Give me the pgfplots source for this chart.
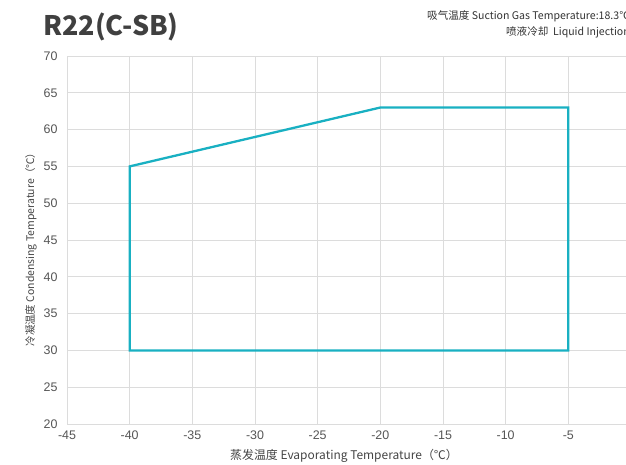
\documentclass[border=0pt]{standalone}
\usepackage{fontspec}
\setmainfont{Noto Sans CJK SC}
\newfontfamily\arial{Liberation Sans}
\usepackage{pgfplots}
\pgfplotsset{compat=1.18}
\definecolor{teal1}{RGB}{25,176,194}
\definecolor{grid1}{RGB}{220,220,220}
\definecolor{tick1}{RGB}{85,85,85}
\begin{document}
\begin{tikzpicture}
\begin{axis}[
  at={(0,0)}, anchor=south west,
  scale only axis, width=564bp, height=368bp,
  xmin=-45, xmax=0, ymin=20, ymax=70,
  xtick={-45,-40,...,-5}, ytick={20,25,...,70},
  extra x ticks={0}, extra x tick labels={},
  extra x tick style={grid=major},
  grid=major,
  major grid style={draw=grid1, line width=1pt},
  axis line style={draw=grid1, line width=1pt},
  major tick length=0pt,
  tick style={draw=none},
  /pgf/number format/assume math mode=true,
  ticklabel style={font=\arial\fontsize{12.5}{14}\selectfont, text=tick1},
  yticklabel style={xshift=-6bp},
  xticklabel style={yshift=-3bp},
  clip=false,
]
\addplot[teal1, line width=2.3pt, line join=miter] coordinates {
  (-40,30) (-40,55) (-20,63) (-5,63) (-5,30) (-40,30)
} -- cycle;
\end{axis}
\node[font=\fontsize{12}{14}\selectfont, text=tick1!80!black, anchor=center] at (277bp,-32bp) {蒸发温度 Evaporating Temperature（℃）};
\node[font=\fontsize{10.5}{12}\selectfont, text=tick1!80!black, rotate=90, anchor=center] at (-36bp,177bp) {冷凝温度 Condensing Temperature（℃）};
\node[font=\bfseries\fontsize{27}{30}\selectfont, text=black!75, anchor=base west, inner sep=0pt] at (-24bp,388bp) {R22(C-SB)};
\node[font=\fontsize{10.6}{16}\selectfont, text=black!80, anchor=west, align=right, inner sep=0pt] at (360bp,400bp) {吸气温度 Suction Gas Temperature:18.3℃\\喷液冷却\ \ Liquid Injection};
\pgfresetboundingbox
\useasboundingbox (-67bp,-41bp) rectangle (559bp,424bp);
\end{tikzpicture}
\end{document}
